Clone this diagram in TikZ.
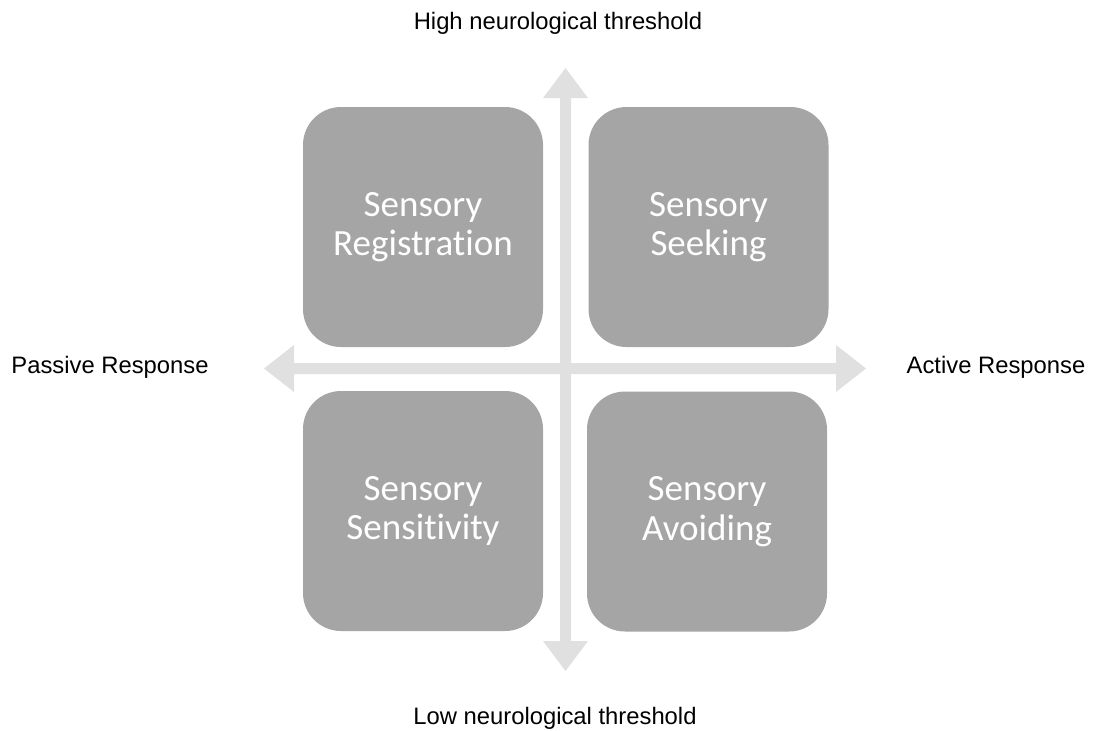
\documentclass[tikz,border=0pt]{standalone}
\usepackage{fontspec}
\setmainfont{Liberation Sans}
\newfontfamily\boxfont[Ligatures=NoCommon]{Carlito}
\definecolor{boxgray}{HTML}{A5A5A5}
\definecolor{arrowgray}{HTML}{E0E0E0}
\begin{document}
\begin{tikzpicture}[x=1pt,y=-1pt,
  quad/.style={fill=boxgray, draw=none, rounded corners=38pt, minimum width=240pt, minimum height=240pt, text=white, align=center, font=\boxfont\fontsize{37}{39.5}\selectfont, inner sep=0pt},
  axislabel/.style={text=black, font=\fontsize{23.8}{28}\selectfont, inner sep=0pt},
  axisfill/.style={fill=arrowgray, draw=none}]
\useasboundingbox (0,0) rectangle (1093,731);
% vertical double arrow
\coordinate (vtop) at (565.5,68);
\coordinate (vbot) at (565.5,671);
\fill[axisfill] (vtop) -- (588,98) -- (571,98) -- (571,641) -- (588,641) -- (vbot) -- (543,641) -- (560,641) -- (560,98) -- (543,98) -- cycle;
% horizontal double arrow
\coordinate (hleft) at (264,368.5);
\coordinate (hright) at (866,368.5);
\fill[axisfill] (hleft) -- (294,345) -- (294,363) -- (836,363) -- (836,345) -- (hright) -- (836,392) -- (836,374) -- (294,374) -- (294,392) -- cycle;
% quadrants
\node[quad] (reg) at (423,227) {Sensory\\Registration};
\node[quad] (seek) at (708.5,227) {Sensory\\Seeking};
\node[quad] (sens) at (423,511) {Sensory\\Sensitivity};
\node[quad] (avoid) at (707,511.5) {Sensory\\Avoiding};
% labels
\node[axislabel] (high) at (558,23) {High neurological threshold};
\node[axislabel] (low) at (555,718) {Low neurological threshold};
\node[axislabel] (passive) at (110,367) {Passive Response};
\node[axislabel] (active) at (996,367) {Active Response};
\end{tikzpicture}
\end{document}
